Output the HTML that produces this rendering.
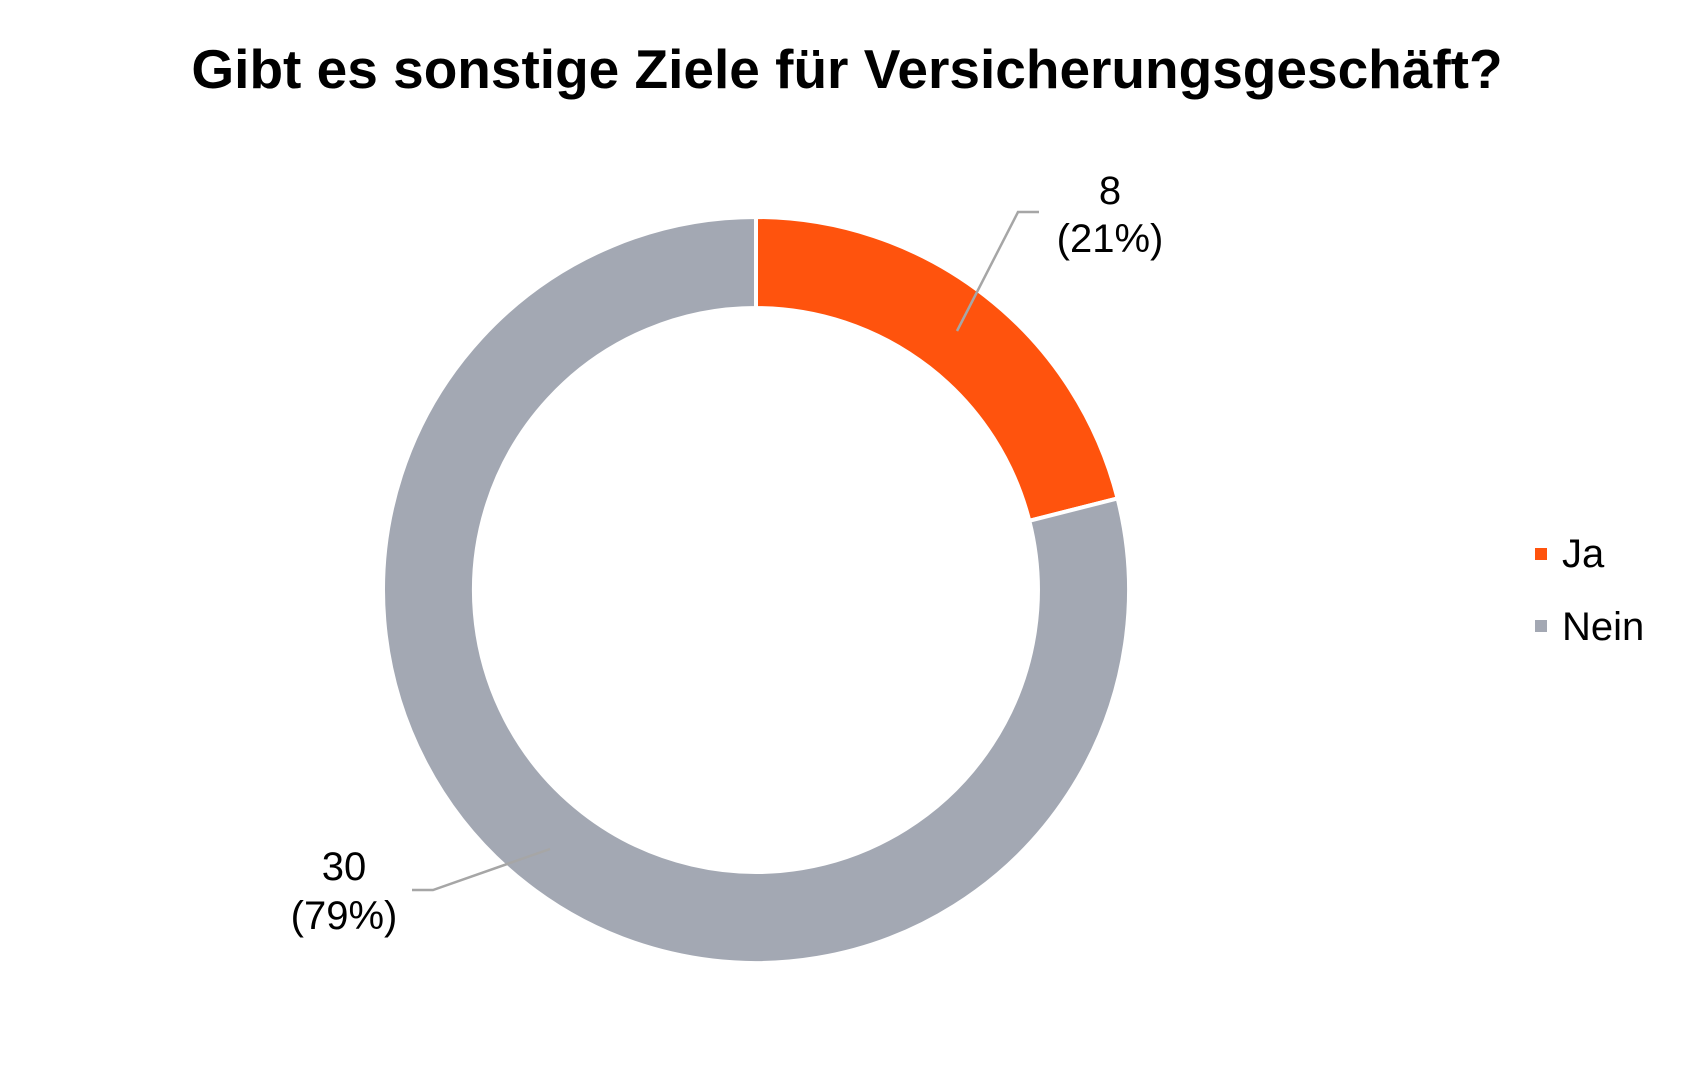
<!DOCTYPE html>
<html><head><meta charset="utf-8"><style>
html,body{margin:0;padding:0;background:#fff;}
svg{display:block;}
</style></head><body>
<svg width="1692" height="1076" viewBox="0 0 1692 1076" xmlns="http://www.w3.org/2000/svg" font-family="'Liberation Sans', Arial, sans-serif">
<rect width="1692" height="1076" fill="#fff"/>
<text x="847" y="88" text-anchor="middle" font-size="55" font-weight="bold" fill="#000">Gibt es sonstige Ziele für Versicherungsgeschäft?</text>
<g transform="translate(-3,-2)">
<path d="M759,219 A373,373 0 0,1 1120.6,500.4 L1032.3,522.8 A282,282 0 0,0 759,310 Z" fill="#ff530d" stroke="#fff" stroke-width="4"/>
<path d="M1120.6,500.4 A373,373 0 1,1 759,219 L759,310 A282,282 0 1,0 1032.3,522.8 Z" fill="#a3a8b3" stroke="#fff" stroke-width="4"/>
</g>
<polyline points="957,331 1018,212 1039,212" fill="none" stroke="#a6a6a6" stroke-width="2.5"/>
<polyline points="412,890 433,890 550,849" fill="none" stroke="#a6a6a6" stroke-width="2.5"/>
<g font-size="40" fill="#000" text-anchor="middle">
<text x="1110" y="204">8</text>
<text x="1110" y="252">(21%)</text>
<text x="344" y="880">30</text>
<text x="344" y="929">(79%)</text>
</g>
<rect x="1535" y="548" width="12" height="12" fill="#ff530d"/>
<rect x="1535" y="620" width="12" height="12" fill="#a3a8b3"/>
<g font-size="40" fill="#000">
<text x="1562" y="567">Ja</text>
<text x="1562" y="640">Nein</text>
</g>
</svg>
</body></html>
